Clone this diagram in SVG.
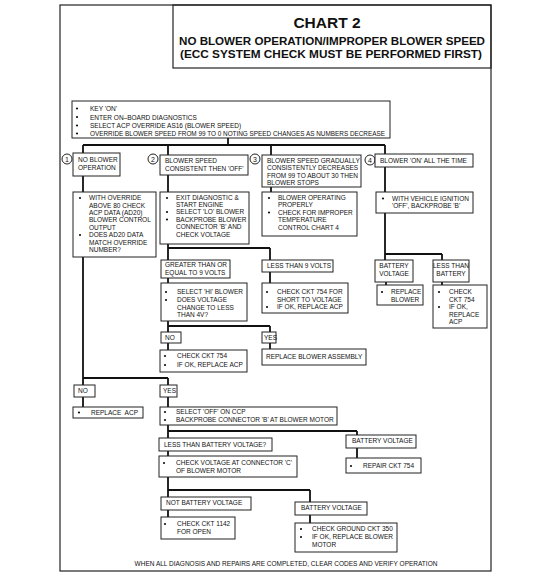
<svg xmlns="http://www.w3.org/2000/svg" width="559" height="581" viewBox="0 0 559 581">
<style>
.frame{fill:none;stroke:#222;stroke-width:1.2}
.b{fill:#fff;stroke:#222;stroke-width:1}
.c{fill:none;stroke:#111;stroke-width:1.8}
.t{font-family:"Liberation Sans",Arial,sans-serif;font-size:6.5px;fill:#111}
.m{text-anchor:middle}
.h{font-family:"Liberation Sans",Arial,sans-serif;font-weight:bold;fill:#111;text-anchor:middle}
.dot{fill:#111}
.num{fill:#fff;stroke:#222;stroke-width:1}
.n{font-family:"Liberation Sans",Arial,sans-serif;font-size:7px;fill:#111;text-anchor:middle}
</style>
<rect width="559" height="581" fill="#fff"/>
<rect class="frame" x="60" y="5" width="431" height="566"/>
<g id="title">
<rect class="frame" x="173" y="5" width="318" height="63"/>
<text class="h" x="327" y="28" font-size="15.5">CHART 2</text>
<text class="h" x="332" y="44.5" font-size="10.5" textLength="306" lengthAdjust="spacingAndGlyphs">NO BLOWER OPERATION/IMPROPER BLOWER SPEED</text>
<text class="h" x="331" y="58.3" font-size="10.5" textLength="302" lengthAdjust="spacingAndGlyphs">(ECC SYSTEM CHECK MUST BE PERFORMED FIRST)</text>
</g>
<g id="connectors">
<path class="c" d="M228 138V145M83 145H385M83 145V153M168 145V155M271 145V155M385 145V154"/>
<path class="c" d="M83 176V192M83 257V385M83 378H168M168 378V385M83 397V407M168 397V407"/>
<path class="c" d="M168 175V192M168 244V260M168 248H270M270 248V260M168 278V283M270 272V283M168 321V332M168 326H270M270 326V332M168 343V350M270 343V349"/>
<path class="c" d="M271 187V192"/>
<path class="c" d="M385 167V192M385 213V260M385 254H442M442 254V260M386 282V285M442 282V285"/>
<path class="c" d="M168 425V438M168 431H357M357 431V435M357 448V458M168 451V456M168 477V497M168 490H310M310 490V502M168 510V517M310 515V523"/>
</g>
<g id="start">
<rect class="b" x="72" y="101" width="318" height="37"/>
<circle class="dot" cx="77" cy="108.5" r="1.1"/><circle class="dot" cx="77" cy="117" r="1.1"/><circle class="dot" cx="77" cy="125.5" r="1.1"/><circle class="dot" cx="77" cy="133.5" r="1.1"/>
<text class="t" x="90" y="111">KEY 'ON'</text>
<text class="t" x="90" y="119.5">ENTER ON–BOARD DIAGNOSTICS</text>
<text class="t" x="90" y="128">SELECT ACP OVERRIDE AS16 (BLOWER SPEED)</text>
<text class="t" x="90" y="136" textLength="295" lengthAdjust="spacingAndGlyphs">OVERRIDE BLOWER SPEED FROM 99 TO 0 NOTING SPEED CHANGES AS NUMBERS DECREASE</text>
</g>
<g id="n1">
<circle class="num" cx="67" cy="159" r="5"/><text class="n" x="67" y="161.5">1</text>
<rect class="b" x="73" y="153" width="47" height="23"/>
<text class="t" x="78" y="161.5">NO BLOWER</text>
<text class="t" x="78" y="169.5">OPERATION</text>
</g>
<g id="n2">
<circle class="num" cx="153" cy="159" r="5"/><text class="n" x="153" y="161.5">2</text>
<rect class="b" x="160" y="155" width="88" height="20"/>
<text class="t" x="165" y="162.5">BLOWER SPEED</text>
<text class="t" x="165" y="170.5">CONSISTENT THEN 'OFF'</text>
</g>
<g id="n3">
<circle class="num" cx="255" cy="159" r="5"/><text class="n" x="255" y="161.5">3</text>
<rect class="b" x="262" y="155" width="99" height="32"/>
<text class="t" x="267" y="162.5">BLOWER SPEED GRADUALLY</text>
<text class="t" x="267" y="170.3">CONSISTENTLY DECREASES</text>
<text class="t" x="267" y="177.8">FROM 99 TO ABOUT 30 THEN</text>
<text class="t" x="267" y="184.8">BLOWER STOPS</text>
</g>
<g id="n4">
<circle class="num" cx="370" cy="160" r="5"/><text class="n" x="370" y="162.5">4</text>
<rect class="b" x="375" y="154" width="98" height="13"/>
<text class="t" x="380" y="162.8">BLOWER 'ON' ALL THE TIME</text>
</g>
<g id="a1">
<rect class="b" x="73" y="192" width="83" height="65"/>
<circle class="dot" cx="80" cy="198" r="1.1"/><circle class="dot" cx="80" cy="235" r="1.1"/>
<text class="t" x="89" y="200.3">WITH OVERRIDE</text>
<text class="t" x="89" y="207.6">ABOVE 80 CHECK</text>
<text class="t" x="89" y="215">ACP DATA (AD20)</text>
<text class="t" x="89" y="222.3">BLOWER CONTROL</text>
<text class="t" x="89" y="229.8">OUTPUT</text>
<text class="t" x="89" y="237.3">DOES AD20 DATA</text>
<text class="t" x="89" y="244.6">MATCH OVERRIDE</text>
<text class="t" x="89" y="252.3">NUMBER?</text>
</g>
<g id="a2">
<rect class="b" x="160" y="192" width="89" height="52"/>
<circle class="dot" cx="167" cy="198" r="1.1"/><circle class="dot" cx="167" cy="212" r="1.1"/><circle class="dot" cx="167" cy="219.5" r="1.1"/>
<text class="t" x="176" y="200.3">EXIT DIAGNOSTIC &amp;</text>
<text class="t" x="176" y="207.3">START ENGINE</text>
<text class="t" x="176" y="214.3">SELECT 'LO' BLOWER</text>
<text class="t" x="176" y="221.8">BACKPROBE BLOWER</text>
<text class="t" x="176" y="229.3">CONNECTOR 'B' AND</text>
<text class="t" x="176" y="236.8">CHECK VOLTAGE</text>
</g>
<g id="a3">
<rect class="b" x="262" y="192" width="95" height="44"/>
<circle class="dot" cx="269" cy="198" r="1.1"/><circle class="dot" cx="269" cy="212.5" r="1.1"/>
<text class="t" x="278" y="200.3">BLOWER OPERATING</text>
<text class="t" x="278" y="207.3">PROPERLY</text>
<text class="t" x="278" y="214.8">CHECK FOR IMPROPER</text>
<text class="t" x="278" y="222.3">TEMPERATURE</text>
<text class="t" x="278" y="229.8">CONTROL CHART 4</text>
</g>
<g id="a4">
<rect class="b" x="376" y="192" width="97" height="21"/>
<circle class="dot" cx="383" cy="198.5" r="1.1"/>
<text class="t" x="392" y="200.8">WITH VEHICLE IGNITION</text>
<text class="t" x="392" y="208.3">'OFF', BACKPROBE 'B'</text>
</g>
<g id="ge9">
<rect class="b" x="161" y="260" width="69" height="18"/>
<text class="t" x="165" y="267.3">GREATER THAN OR</text>
<text class="t" x="165" y="275.3">EQUAL TO 9 VOLTS</text>
</g>
<g id="lt9">
<rect class="b" x="262" y="260" width="71" height="12"/>
<text class="t" x="267" y="268.3">LESS THAN 9 VOLTS</text>
</g>
<g id="hi">
<rect class="b" x="161" y="283" width="86" height="38"/>
<circle class="dot" cx="166" cy="292" r="1.1"/><circle class="dot" cx="166" cy="300" r="1.1"/>
<text class="t" x="177" y="294.3">SELECT 'HI' BLOWER</text>
<text class="t" x="177" y="302.3">DOES VOLTAGE</text>
<text class="t" x="177" y="309.6">CHANGE TO LESS</text>
<text class="t" x="177" y="317.3">THAN 4V?</text>
</g>
<g id="short">
<rect class="b" x="262" y="283" width="86" height="30"/>
<circle class="dot" cx="267" cy="292" r="1.1"/><circle class="dot" cx="267" cy="307" r="1.1"/>
<text class="t" x="277" y="294.3">CHECK CKT 754 FOR</text>
<text class="t" x="277" y="301.8">SHORT TO VOLTAGE</text>
<text class="t" x="277" y="309.3">IF OK, REPLACE ACP</text>
</g>
<g id="no2">
<rect class="b" x="161" y="332" width="20" height="11"/>
<text class="t" x="165" y="339.8">NO</text>
</g>
<g id="yes2">
<rect class="b" x="262" y="332" width="14" height="11"/>
<text class="t" x="264" y="339.8">YES</text>
</g>
<g id="ck754">
<rect class="b" x="160" y="350" width="87" height="22"/>
<circle class="dot" cx="165" cy="356" r="1.1"/><circle class="dot" cx="165" cy="365" r="1.1"/>
<text class="t" x="177" y="358.3">CHECK CKT 754</text>
<text class="t" x="177" y="367.3">IF OK, REPLACE ACP</text>
</g>
<g id="rba">
<rect class="b" x="262" y="349" width="104" height="16"/>
<text class="t" x="266" y="358.8">REPLACE BLOWER ASSEMBLY</text>
</g>
<g id="bat">
<rect class="b" x="375" y="260" width="38" height="22"/>
<text class="t m" x="394" y="268.3">BATTERY</text>
<text class="t m" x="394" y="276.3">VOLTAGE</text>
</g>
<g id="ltb">
<rect class="b" x="433" y="260" width="36" height="22"/>
<text class="t m" x="451" y="267.8">LESS THAN</text>
<text class="t m" x="451" y="275.8">BATTERY</text>
</g>
<g id="rb">
<rect class="b" x="377" y="285" width="46" height="20"/>
<circle class="dot" cx="382" cy="292" r="1.1"/>
<text class="t" x="391" y="294.3">REPLACE</text>
<text class="t" x="391" y="301.8">BLOWER</text>
</g>
<g id="ckacp">
<rect class="b" x="433" y="285" width="54" height="43"/>
<circle class="dot" cx="439" cy="292" r="1.1"/><circle class="dot" cx="439" cy="307" r="1.1"/>
<text class="t" x="449" y="294.3">CHECK</text>
<text class="t" x="449" y="301.8">CKT 754</text>
<text class="t" x="449" y="309.3">IF OK,</text>
<text class="t" x="449" y="317.3">REPLACE</text>
<text class="t" x="449" y="324.3">ACP</text>
</g>
<g id="no1">
<rect class="b" x="74" y="385" width="21" height="12"/>
<text class="t" x="78" y="393.3">NO</text>
</g>
<g id="yes1">
<rect class="b" x="160" y="385" width="17" height="12"/>
<text class="t" x="163" y="393.3">YES</text>
</g>
<g id="racp">
<rect class="b" x="73" y="407" width="70" height="11"/>
<circle class="dot" cx="79" cy="412.5" r="1.1"/>
<text class="t" x="91" y="414.8" xml:space="preserve">REPLACE  ACP</text>
</g>
<g id="soff">
<rect class="b" x="160" y="407" width="177" height="18"/>
<circle class="dot" cx="165" cy="412" r="1.1"/><circle class="dot" cx="165" cy="420" r="1.1"/>
<text class="t" x="176" y="414.3">SELECT 'OFF' ON CCP</text>
<text class="t" x="176" y="422.3">BACKPROBE CONNECTOR 'B' AT BLOWER MOTOR</text>
</g>
<g id="ltbv">
<rect class="b" x="159" y="438" width="113" height="13"/>
<text class="t" x="164" y="447.3">LESS THAN BATTERY VOLTAGE?</text>
</g>
<g id="bv1">
<rect class="b" x="346" y="435" width="70" height="13"/>
<text class="t" x="352" y="443.3">BATTERY VOLTAGE</text>
</g>
<g id="r754">
<rect class="b" x="346" y="458" width="75" height="15"/>
<circle class="dot" cx="351" cy="466" r="1.1"/>
<text class="t" x="363" y="468.3">REPAIR CKT 754</text>
</g>
<g id="cvc">
<rect class="b" x="159" y="456" width="138" height="21"/>
<circle class="dot" cx="164" cy="463" r="1.1"/>
<text class="t" x="176" y="465.3">CHECK VOLTAGE AT CONNECTOR 'C'</text>
<text class="t" x="176" y="473.3">OF BLOWER MOTOR</text>
</g>
<g id="nbv">
<rect class="b" x="161" y="497" width="90" height="13"/>
<text class="t" x="166" y="505.3">NOT BATTERY VOLTAGE</text>
</g>
<g id="bv2">
<rect class="b" x="295" y="502" width="72" height="13"/>
<text class="t" x="301" y="510.3">BATTERY VOLTAGE</text>
</g>
<g id="ck1142">
<rect class="b" x="161" y="517" width="74" height="22"/>
<circle class="dot" cx="165" cy="524" r="1.1"/>
<text class="t" x="177" y="526.3">CHECK CKT 1142</text>
<text class="t" x="177" y="534.3">FOR OPEN</text>
</g>
<g id="cg350">
<rect class="b" x="295" y="523" width="102" height="29"/>
<circle class="dot" cx="301" cy="529" r="1.1"/><circle class="dot" cx="301" cy="537" r="1.1"/>
<text class="t" x="312" y="531.3">CHECK GROUND CKT 350</text>
<text class="t" x="312" y="539.3">IF OK, REPLACE BLOWER</text>
<text class="t" x="312" y="547.3">MOTOR</text>
</g>
<g id="footer">
<text class="t m" x="286" y="565.5">WHEN ALL DIAGNOSIS AND REPAIRS ARE COMPLETED, CLEAR CODES AND VERIFY OPERATION</text>
</g>
</svg>
